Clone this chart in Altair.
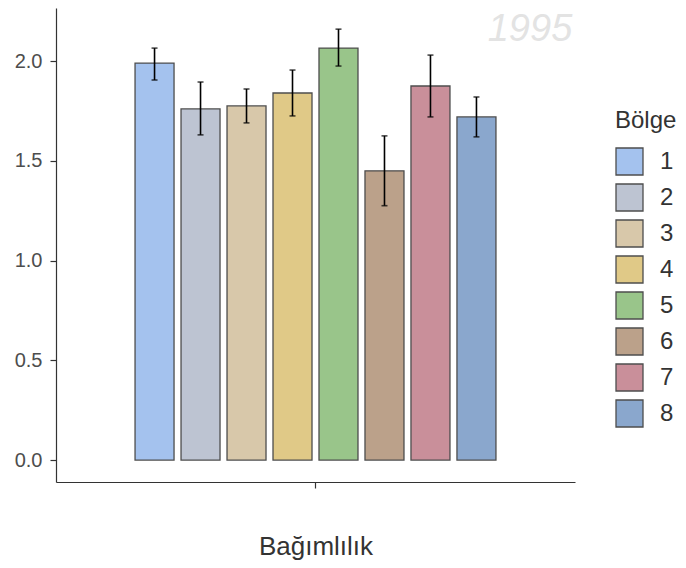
import altair as alt
import pandas as pd

# ---- data ----
regions = ["1", "2", "3", "4", "5", "6", "7", "8"]
means = [1.99, 1.76, 1.775, 1.84, 2.065, 1.45, 1.875, 1.72]
lower = [1.905, 1.63, 1.69, 1.725, 1.975, 1.275, 1.72, 1.62]
upper = [2.065, 1.895, 1.86, 1.955, 2.16, 1.625, 2.03, 1.82]
colors = ["#a4c2ee", "#bdc4d2", "#d8c8aa", "#e0c987",
          "#99c58a", "#bba18a", "#c98f9a", "#8aa7cd"]
variable = "Bağımlılık"
y_ticks = [0.0, 0.5, 1.0, 1.5, 2.0]

df = pd.DataFrame({
    "Değişken": [variable] * len(regions),
    "Bölge": regions,
    "Ortalama": means,
    "Alt": lower,
    "Ust": upper,
})

FONT = "Liberation Sans"

x_enc = alt.X(
    "Değişken:N",
    scale=alt.Scale(paddingInner=0, paddingOuter=0.219),
    axis=alt.Axis(labels=False, title=variable, titleFontSize=26,
                  titleFontWeight="normal", titleColor="#333333",
                  titlePadding=45, tickSize=6, tickColor="#333333",
                  domainColor="#333333", domainWidth=1.2, tickWidth=1.2),
)
xoff_enc = alt.XOffset("Bölge:N", scale=alt.Scale(paddingInner=0.152, paddingOuter=0))
y_scale = alt.Scale(domain=[-0.11, 2.266], nice=False, zero=False)

bars = alt.Chart(df).mark_bar(stroke="#4d4d4d", strokeWidth=1.3).encode(
    x=x_enc,
    xOffset=xoff_enc,
    y=alt.Y("Ortalama:Q", scale=y_scale,
            axis=alt.Axis(values=y_ticks, format=".1f", title=None,
                          labelFontSize=20, labelColor="#4d4d4d",
                          labelPadding=8, tickSize=6, tickColor="#333333",
                          tickWidth=1.2, domainColor="#333333",
                          domainWidth=1.2, grid=False)),
    fill=alt.Fill("Bölge:N", scale=alt.Scale(domain=regions, range=colors),
                  legend=alt.Legend(orient="none", legendX=559, legendY=101,
                                    title="Bölge", titleFontSize=24,
                                    titleFontWeight="normal", titleColor="#333333",
                                    labelFontSize=24, labelColor="#333333",
                                    symbolType="square", symbolSize=729,
                                    symbolStrokeColor="#4d4d4d",
                                    symbolStrokeWidth=1.3, symbolOpacity=1,
                                    rowPadding=3, titlePadding=14,
                                    labelOffset=16, padding=0)),
)

rules = alt.Chart(df).mark_rule(color="black", strokeWidth=1.6).encode(
    x=alt.X("Değişken:N"),
    xOffset=alt.XOffset("Bölge:N"),
    y=alt.Y("Alt:Q"),
    y2="Ust:Q",
)

caps_hi = alt.Chart(df).mark_tick(color="black", orient="horizontal",
                                  size=6, thickness=1.6).encode(
    x=alt.X("Değişken:N"),
    xOffset=alt.XOffset("Bölge:N"),
    y=alt.Y("Ust:Q"),
)
caps_lo = alt.Chart(df).mark_tick(color="black", orient="horizontal",
                                  size=6, thickness=1.6).encode(
    x=alt.X("Değişken:N"),
    xOffset=alt.XOffset("Bölge:N"),
    y=alt.Y("Alt:Q"),
)

watermark = alt.Chart(pd.DataFrame({"t": ["1995"]})).mark_text(
    font=FONT, fontSize=38, fontStyle="italic", color="#b0b0b0",
    opacity=0.35, baseline="alphabetic", align="center",
).encode(text="t:N", x=alt.value(474), y=alt.value(33))

chart = alt.layer(bars, rules, caps_hi, caps_lo, watermark).properties(
    width=519, height=474,
    autosize=alt.AutoSizeParams(type="none"),
    padding={"left": 48, "top": 0, "right": 103, "bottom": 86},
).configure(font=FONT).configure_view(stroke=None).configure_axis(
    labelFont=FONT, titleFont=FONT
).configure_legend(labelFont=FONT, titleFont=FONT)

chart.save("out.html", embed_options={"renderer": "svg", "actions": False})
